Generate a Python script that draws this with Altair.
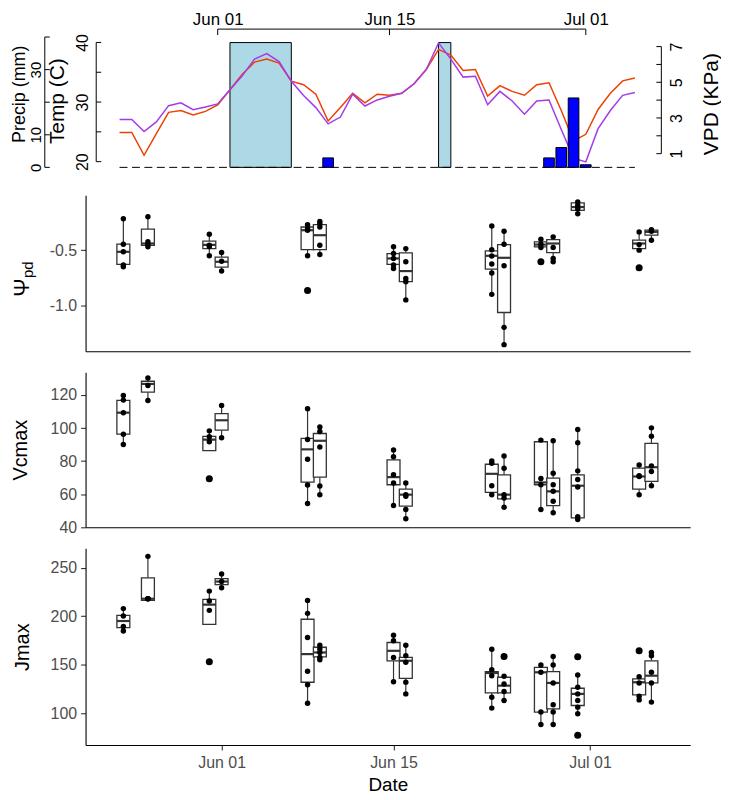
import altair as alt
import pandas as pd

FONT = "Liberation Sans"
GREY20 = "#333333"
GREY30 = "#4D4D4D"
W = 608

# ---------------- weather panel data ----------------
wx_start, wx_end = "2019-05-24", "2019-07-05"
temp_c = [24.91, 24.91, 21.07, 24.70, 28.27, 28.59, 27.84, 28.43,
          29.50, 32.06, 34.67, 36.70, 37.23, 36.54, 33.50, 32.91, 31.31, 26.83,
          29.07, 31.47, 29.87, 31.31, 31.15, 31.47, 33.07, 35.47, 38.83, 37.87,
          35.31, 35.47, 30.99, 32.75, 31.79, 31.15, 32.91, 33.23, 28.59, 23.47,
          24.59, 28.75, 31.47, 33.55, 34.03]
vpd_kpa = [2.92, 2.92, 2.24, 2.78, 3.69, 3.85, 3.46, 3.62,
           3.79, 4.58, 5.36, 6.30, 6.61, 6.16, 5.06, 4.26, 3.58, 2.67,
           3.05, 4.33, 3.67, 4.01, 4.22, 4.38, 4.92, 5.72, 7.21, 6.30,
           5.29, 5.34, 3.74, 4.49, 3.95, 3.21, 3.95, 4.01, 2.35, 0.75,
           0.54, 2.40, 3.42, 4.27, 4.43]
precip_dates = ["2019-06-10", "2019-06-28", "2019-06-29", "2019-06-30", "2019-07-01"]
precip_mm = [2.9, 2.9, 6.1, 21.3, 0.8]
heat_start = ["2019-06-02", "2019-06-19"]
heat_end = ["2019-06-07", "2019-06-20"]
heat_top = [38.3, 38.3]
precip_tick_vals = [0, 10, 20, 30, 40]
temp_tick_vals = [20, 25, 30, 35, 40]
vpd_tick_vals = [1, 2, 3, 4, 5, 6, 7]
vpd_label_vals = [1, 3, 5, 7]
date_tick_str = ["2019-06-01", "2019-06-15", "2019-07-01"]

# ---------------- box panel data ----------------
box_dates = ["2019-05-24", "2019-05-26", "2019-05-31", "2019-06-01", "2019-06-08",
             "2019-06-09", "2019-06-15", "2019-06-16", "2019-06-23", "2019-06-24",
             "2019-06-27", "2019-06-28", "2019-06-30", "2019-07-05", "2019-07-06"]

psi_lo = [-0.650, -0.469, -0.551, -0.688, -0.551, -0.539, -0.688, -0.949, -0.899, -1.353, -0.476, -0.605, -0.171, -0.500, -0.410]
psi_q1 = [-0.629, -0.456, -0.486, -0.653, -0.495, -0.495, -0.629, -0.785, -0.671, -1.063, -0.470, -0.522, -0.141, -0.486, -0.365]
psi_med = [-0.515, -0.440, -0.452, -0.605, -0.320, -0.365, -0.575, -0.689, -0.551, -0.569, -0.450, -0.440, -0.111, -0.440, -0.335]
psi_q3 = [-0.446, -0.310, -0.419, -0.563, -0.291, -0.270, -0.531, -0.524, -0.506, -0.450, -0.425, -0.405, -0.073, -0.410, -0.320]
psi_hi = [-0.216, -0.198, -0.356, -0.521, -0.270, -0.240, -0.470, -0.486, -0.282, -0.329, -0.401, -0.380, -0.066, -0.336, -0.315]
psi_pts = [[-0.216, -0.446, -0.515, -0.634, -0.650],
           [-0.198, -0.424, -0.447, -0.469],
           [-0.356, -0.455, -0.467, -0.551],
           [-0.521, -0.600, -0.688],
           [-0.270, -0.306, -0.320, -0.551],
           [-0.240, -0.261, -0.291, -0.455, -0.539],
           [-0.470, -0.530, -0.575, -0.634, -0.665],
           [-0.486, -0.605, -0.755, -0.785, -0.949],
           [-0.282, -0.496, -0.553, -0.625, -0.707, -0.899],
           [-0.329, -0.446, -0.641, -1.197, -1.353],
           [-0.401, -0.446, -0.476],
           [-0.380, -0.476, -0.575, -0.605],
           [-0.066, -0.096, -0.127, -0.171],
           [-0.336, -0.450, -0.500],
           [-0.315, -0.330, -0.410]]
psi_out_dates = ["2019-06-08", "2019-06-27", "2019-07-05"]
psi_out_vals = [-0.864, -0.605, -0.659]

vc_lo = [90.1, 116.7, 86.3, 94.1, 54.3, 59.7, 53.1, 45.1, 59.7, 52.1, 50.7, 47.7, 44.7, 59.7, 64.3]
vc_q1 = [96.3, 121.7, 86.3, 98.7, 67.3, 70.3, 65.7, 52.7, 61.1, 57.1, 65.7, 53.1, 45.7, 63.1, 67.7]
vc_med = [109.3, 126.7, 93.0, 104.7, 87.1, 92.3, 70.3, 59.7, 72.3, 59.7, 67.1, 61.7, 65.1, 70.7, 76.3]
vc_q3 = [116.7, 128.3, 95.0, 108.7, 93.7, 96.7, 80.7, 63.1, 78.1, 71.7, 91.7, 69.7, 71.7, 75.7, 90.7]
vc_hi = [119.7, 130.3, 98.3, 113.7, 111.7, 100.7, 86.7, 66.7, 80.1, 83.1, 92.7, 92.3, 99.1, 77.7, 100.1]
vc_pts = [[119.7, 116.9, 109.3, 96.3, 90.1],
          [130.3, 125.7, 116.7],
          [98.3, 94.7, 91.7],
          [113.7, 94.1],
          [111.7, 93.1, 81.1, 65.5, 54.3],
          [100.7, 97.9, 88.5, 64.9, 59.7],
          [86.7, 82.7, 71.7, 66.7, 53.1],
          [66.7, 59.7, 58.7, 50.7, 45.1],
          [80.1, 78.7, 65.1, 59.7],
          [83.1, 75.7, 59.7, 57.7, 52.1],
          [92.7, 69.5, 65.7, 50.7],
          [92.3, 72.7, 65.7, 61.7, 55.7, 48.7],
          [99.1, 91.1, 74.1, 68.9, 64.3, 46.3, 44.7],
          [77.7, 71.1, 70.7, 59.7],
          [100.1, 95.1, 77.1, 73.7, 65.1]]
vc_out_dates = ["2019-05-31"]
vc_out_vals = [69.3]

jm_lo = [183.8, 216.5, 191.7, 229.4, 110.2, 155.0, 132.4, 119.8, 105.1, 112.9, 88.2, 88.2, 99.2, 113.6, 111.3]
jm_q1 = [188.3, 216.5, 191.7, 232.8, 131.8, 158.0, 154.0, 135.9, 120.8, 120.8, 101.0, 104.4, 107.8, 118.8, 131.1]
jm_med = [195.1, 218.1, 212.0, 235.9, 160.9, 162.6, 164.3, 154.0, 141.4, 128.3, 142.1, 131.1, 119.8, 131.8, 138.6]
jm_q3 = [201.0, 239.7, 217.4, 239.0, 196.9, 168.0, 172.9, 157.5, 142.7, 137.0, 147.2, 142.7, 125.6, 135.2, 154.0]
jm_hi = [207.9, 261.9, 226.0, 243.8, 216.4, 170.1, 180.4, 170.1, 166.0, 137.0, 149.6, 158.5, 139.3, 137.6, 162.6]
jm_pts = [[207.9, 200.3, 189.4, 184.8],
          [261.9, 218.1, 218.1, 218.1],
          [226.0, 215.7, 206.1],
          [243.8, 236.0, 229.4],
          [216.4, 203.0, 178.1, 143.1, 129.3, 110.2],
          [170.1, 166.1, 162.6, 157.5, 155.0],
          [180.4, 174.6, 157.5, 132.4],
          [170.1, 159.1, 152.4, 131.8, 119.8],
          [166.0, 144.8, 138.6, 116.4, 105.1],
          [138.0, 130.1, 122.2, 112.9],
          [149.6, 142.1, 101.0, 88.2],
          [158.5, 149.6, 131.1, 108.5, 101.0, 88.2],
          [139.3, 126.7, 119.8, 112.9, 106.1, 99.2],
          [137.6, 131.1, 117.4, 113.6],
          [162.6, 159.1, 142.1, 131.1, 111.3]]
jm_out_dates = ["2019-05-31", "2019-06-24", "2019-06-30", "2019-06-30", "2019-07-05"]
jm_out_vals = [153.0, 158.5, 158.1, 77.0, 164.3]


# ---------------- helpers ----------------
def dt(ts):
    ts = pd.Timestamp(ts)
    return alt.DateTime(year=ts.year, month=ts.month, date=ts.day,
                        hours=ts.hour, minutes=ts.minute)


date_ticks = [dt(s) for s in date_tick_str]
x_top = alt.Scale(domain=[dt("2019-05-21 15:17"), dt("2019-07-09 02:24")], nice=False)
x_bot = alt.Scale(domain=[dt("2019-05-21 07:52"), dt("2019-07-08 18:01")], nice=False)

# ---------------- weather panel ----------------
TOP_H = 141
wx = pd.DataFrame({"date": pd.date_range(wx_start, wx_end, freq="D"),
                   "temp": temp_c, "vpd": vpd_kpa})
pr = pd.DataFrame({"date": pd.to_datetime(precip_dates), "precip": precip_mm})
heat = pd.DataFrame({"start": pd.to_datetime(heat_start), "end": pd.to_datetime(heat_end),
                     "top": heat_top})
ptk = pd.DataFrame({"v": precip_tick_vals})
ttk = pd.DataFrame({"v": temp_tick_vals})
vtk = pd.DataFrame({"v": vpd_tick_vals})
dtk = pd.DataFrame({"d": pd.to_datetime(date_tick_str)})

py = alt.Scale(domain=[-2.121, 40.909], nice=False, zero=False)
ty = alt.Scale(domain=[17.879, 41.408], nice=False, zero=False)
vy = alt.Scale(domain=[-0.157, 7.703], nice=False, zero=False)

common_lab = dict(domain=False, ticks=False, tickSize=0, grid=False, labelAngle=270,
                  labelAlign="center", labelFontSize=16, labelColor="black",
                  titleAngle=270, titleBaseline="middle", titleAlign="center",
                  titleFontWeight="normal", titleColor="black")

PX = -41
TX = 10.7
VX = W - 29

precip_axis = alt.Axis(**{**common_lab, "labelFontSize": 15},
                       orient="left", offset=-PX, values=precip_tick_vals,
                       labelExpr="datum.value == 20 || datum.value == 40 ? '' : datum.label",
                       labelBaseline="bottom", labelPadding=1.5,
                       title="Precip (mm)", titleX=-25, titleY=60, titleFontSize=18)
temp_axis = alt.Axis(orient="left", offset=-TX, values=temp_tick_vals,
                     labelExpr="datum.value % 10 == 0 ? datum.label : ''",
                     labelBaseline="bottom", labelPadding=5.5,
                     title="Temp (C)", titleX=-39, titleY=67, titleFontSize=21,
                     **common_lab)
vpd_axis = alt.Axis(orient="right", offset=-29, values=vpd_label_vals,
                    labelBaseline="top", labelPadding=7,
                    title="VPD (KPa)", titleX=50, titleY=70, titleFontSize=21,
                    **common_lab)
top_x_axis = alt.Axis(orient="top", values=date_ticks, format="%b %d", domain=False,
                      ticks=False, tickSize=0, grid=False, labelPadding=6,
                      labelFontSize=17, labelColor="black", title=None)


def XT(field):
    return alt.X(field, scale=x_top, axis=top_x_axis)


g_precip = alt.layer(
    alt.Chart(heat).mark_rect(fill="#ADD8E6", stroke="black", strokeWidth=1).encode(
        x=XT("start:T"), x2="end:T",
        y=alt.Y("top:Q", scale=py, axis=precip_axis), y2=alt.datum(0)),
    alt.Chart(wx).mark_rule(color="black", strokeWidth=1, strokeDash=[8, 4.5]).encode(
        x=XT("min(date):T"), x2="max(date):T",
        y=alt.YDatum(0, scale=py, axis=precip_axis)),
    alt.Chart(ptk).mark_rule(color="black", strokeWidth=1).encode(
        x=alt.value(PX), y=alt.Y("min(v):Q", scale=py, axis=precip_axis), y2="max(v):Q"),
    alt.Chart(ptk).mark_rule(color="black", strokeWidth=1).encode(
        x=alt.value(PX), x2=alt.value(PX + 5), y=alt.Y("v:Q", scale=py, axis=precip_axis)),
    alt.Chart(dtk).mark_rule(color="black", strokeWidth=1).encode(
        x=XT("min(d):T"), x2="max(d):T", y=alt.value(-5)),
    alt.Chart(dtk).mark_rule(color="black", strokeWidth=1).encode(
        x=XT("d:T"), y=alt.value(-5), y2=alt.value(1)),
)

g_temp = alt.layer(
    alt.Chart(wx).mark_line(color="#EE4000", strokeWidth=1.5).encode(
        x=XT("date:T"), y=alt.Y("temp:Q", scale=ty, axis=temp_axis)),
    alt.Chart(ttk).mark_rule(color="black", strokeWidth=1).encode(
        x=alt.value(TX), y=alt.Y("min(v):Q", scale=ty, axis=temp_axis), y2="max(v):Q"),
    alt.Chart(ttk).mark_rule(color="black", strokeWidth=1).encode(
        x=alt.value(TX), x2=alt.value(TX + 5), y=alt.Y("v:Q", scale=ty, axis=temp_axis)),
)

g_vpd = alt.layer(
    alt.Chart(wx).mark_line(color="#A43BE8", strokeWidth=1.5).encode(
        x=XT("date:T"), y=alt.Y("vpd:Q", scale=vy, axis=vpd_axis)),
    alt.Chart(vtk).mark_rule(color="black", strokeWidth=1).encode(
        x=alt.value(VX), y=alt.Y("min(v):Q", scale=vy, axis=vpd_axis), y2="max(v):Q"),
    alt.Chart(vtk).mark_rule(color="black", strokeWidth=1).encode(
        x=alt.value(VX), x2=alt.value(VX - 5), y=alt.Y("v:Q", scale=vy, axis=vpd_axis)),
)

g_bars = alt.Chart(pr).mark_bar(width=10.7, color="#0000FF", stroke="black", strokeWidth=1).encode(
    x=XT("date:T"), y=alt.Y("precip:Q", scale=py, axis=None), y2=alt.datum(0))

top = alt.layer(g_precip, g_temp, g_vpd, g_bars).resolve_scale(y="independent").properties(
    width=W, height=TOP_H)


# ---------------- box panels ----------------
def panel(lo, q1, med, q3, hi, pts, out_dates, out_vals, ydom, h, yaxis, xaxis, extra=()):
    bd = pd.to_datetime(box_dates)
    boxes = pd.DataFrame({"date": bd, "lo": lo, "q1": q1, "med": med, "q3": q3, "hi": hi})
    pdf = pd.DataFrame({"date": [d for d, vs in zip(bd, pts) for _ in vs],
                        "v": [v for vs in pts for v in vs]})
    odf = pd.DataFrame({"date": pd.to_datetime(out_dates), "v": out_vals})
    ys = alt.Scale(domain=ydom, nice=False, zero=False)

    def X():
        return alt.X("date:T", scale=x_bot, axis=xaxis)

    def Y(f):
        return alt.Y(f, scale=ys, axis=yaxis)

    base = alt.Chart(boxes)
    layers = [
        base.mark_rule(color=GREY20, strokeWidth=1.2).encode(x=X(), y=Y("lo:Q"), y2="q1:Q"),
        base.mark_rule(color=GREY20, strokeWidth=1.2).encode(x=X(), y=Y("q3:Q"), y2="hi:Q"),
        base.mark_bar(width=13, fill="white", stroke=GREY20, strokeWidth=1.3).encode(
            x=X(), y=Y("q1:Q"), y2="q3:Q"),
        base.mark_tick(orient="horizontal", size=13, thickness=2.2, color=GREY20, opacity=1).encode(
            x=X(), y=Y("med:Q")),
        alt.Chart(pdf).mark_circle(size=30, color="black", opacity=1).encode(x=X(), y=Y("v:Q")),
        alt.Chart(odf).mark_circle(size=50, color="black", opacity=1).encode(x=X(), y=Y("v:Q")),
    ]
    return alt.layer(*layers, *extra).properties(width=W, height=h)


yax_common = dict(grid=False, domainColor="black", domainWidth=1.1, tickColor=GREY20,
                  tickSize=5, tickWidth=1.1, labelFontSize=16, labelColor=GREY30,
                  labelPadding=4, titleFontSize=20, titleFontWeight="normal",
                  titleColor="black", titleBaseline="middle", titleAlign="center")
x_blank = alt.Axis(labels=False, ticks=False, title=None, grid=False,
                   domainColor="black", domainWidth=1.1)
x_full = alt.Axis(values=date_ticks, format="%b %d", grid=False, domainColor="black",
                  domainWidth=1.1, tickColor=GREY20, tickSize=5, tickWidth=1.1,
                  labelFontSize=16, labelColor=GREY30, labelPadding=5,
                  title="Date", titleFontSize=19, titleFontWeight="normal",
                  titleColor="black", titlePadding=5)

psi_title = [
    alt.Chart(pd.DataFrame({"t": ["Ψ"]})).mark_text(
        angle=270, fontSize=22, color="black", baseline="middle", align="center").encode(
        text="t:N", x=alt.value(-64), y=alt.value(93)),
    alt.Chart(pd.DataFrame({"t": ["pd"]})).mark_text(
        angle=270, fontSize=15, color="black", baseline="middle", align="center").encode(
        text="t:N", x=alt.value(-58), y=alt.value(75)),
]

psi = panel(psi_lo, psi_q1, psi_med, psi_q3, psi_hi, psi_pts, psi_out_dates, psi_out_vals,
            [-1.413, -0.0036], 157,
            alt.Axis(values=[-1.0, -0.5], title=None,
                     labelExpr="(datum.value < 0 ? '-' : '') + format(abs(datum.value), '.1f')",
                     **yax_common),
            x_blank, extra=psi_title)
vc = panel(vc_lo, vc_q1, vc_med, vc_q3, vc_hi, vc_pts, vc_out_dates, vc_out_vals,
           [39.95, 133.8], 156,
           alt.Axis(values=[40, 60, 80, 100, 120], title="Vcmax", titleX=-65, **yax_common),
           x_blank)
jm = panel(jm_lo, jm_q1, jm_med, jm_q3, jm_hi, jm_pts, jm_out_dates, jm_out_vals,
           [66.9, 270.35], 198,
           alt.Axis(values=[100, 150, 200, 250], title="Jmax", titleX=-63, **yax_common),
           x_full)

chart = alt.vconcat(top, psi, vc, jm, spacing=21, bounds="flush").properties(
    padding={"left": 3, "top": 0, "right": 0, "bottom": 0}).configure(
    font=FONT).configure_view(stroke=None).configure_axis(labelFont=FONT, titleFont=FONT)

chart.save("out.html", embed_options={"renderer": "svg", "actions": False})
